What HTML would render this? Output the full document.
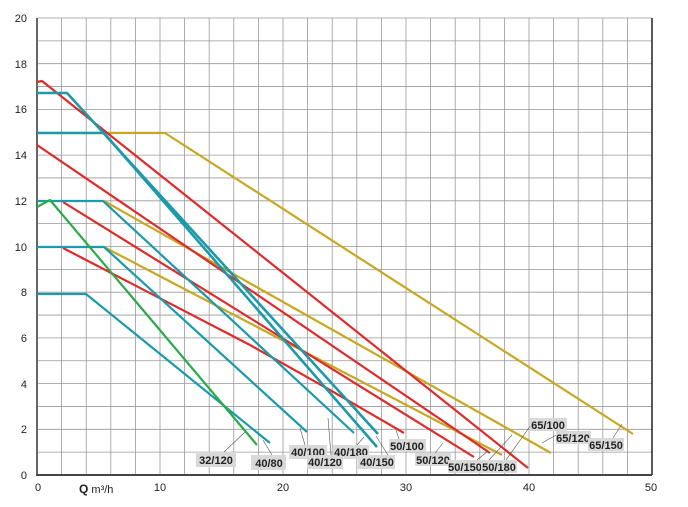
<!DOCTYPE html>
<html><head><meta charset="utf-8"><style>
html,body{margin:0;padding:0;background:#fff;}
svg{display:block;font-family:"Liberation Sans",Arial,sans-serif;}
.lb rect{fill:#d9d9d9;}
.lb text{font-size:11px;font-weight:bold;fill:#222;text-anchor:middle;}
.ld{stroke:#555;stroke-width:0.6;fill:none;}
</style></head><body>
<svg width="688" height="507" viewBox="0 0 688 507" xmlns="http://www.w3.org/2000/svg">
<path stroke="#999" stroke-width="0.8" fill="none" d="
M61.6 18V475M86.2 18V475M110.8 18V475M135.4 18V475M160 18V475M184.6 18V475M209.2 18V475M233.8 18V475M258.4 18V475M283 18V475M307.6 18V475M332.2 18V475M356.8 18V475M381.4 18V475M406 18V475M430.6 18V475M455.2 18V475M479.8 18V475M504.4 18V475M529 18V475M553.6 18V475M578.2 18V475M602.8 18V475M627.4 18V475
M37 452.15H652M37 429.3H652M37 406.45H652M37 383.6H652M37 360.75H652M37 337.9H652M37 315.05H652M37 292.2H652M37 269.35H652M37 246.5H652M37 223.65H652M37 200.8H652M37 177.95H652M37 155.1H652M37 132.25H652M37 109.4H652M37 86.55H652M37 63.7H652M37 40.85H652M37 18H652"/>
<line x1="652" y1="18" x2="652" y2="475" stroke="#222" stroke-width="1.5"/>
<line x1="37" y1="18" x2="37" y2="476" stroke="#666" stroke-width="2"/>
<line x1="36" y1="475" x2="652" y2="475" stroke="#444" stroke-width="2"/>
<g font-size="11" fill="#222" text-anchor="end">
<text x="27" y="22">20</text><text x="27" y="68">18</text><text x="27" y="113">16</text>
<text x="27" y="159">14</text><text x="27" y="205">12</text><text x="27" y="251">10</text>
<text x="27" y="296">8</text><text x="27" y="342">6</text><text x="27" y="388">4</text>
<text x="27" y="433">2</text><text x="27" y="479">0</text>
</g>
<g font-size="11" fill="#222" text-anchor="middle">
<text x="38" y="491">0</text><text x="160" y="491">10</text><text x="283" y="491">20</text>
<text x="406" y="491">30</text><text x="529" y="491">40</text><text x="651" y="491">50</text>
</g>
<text x="79" y="493" font-size="11" fill="#222"><tspan font-weight="bold" font-size="12">Q</tspan> m³/h</text>
<g fill="none" stroke-width="2.2" stroke-linejoin="round">
<polyline stroke="#c8a820" points="104,133 165,133 633,434"/>
<polyline stroke="#c8a820" points="104,201 551,453"/>
<polyline stroke="#c8a820" points="104,247 502,455"/>
<polyline stroke="#e02a2a" points="37,82 42,81 528,468"/>
<polyline stroke="#e02a2a" points="37,145 490,453"/>
<polyline stroke="#e02a2a" points="63,202 474,457"/>
<polyline stroke="#e02a2a" points="63,248 250,345 330,390 404,433"/>
<polyline stroke="#1a9aaa" points="37,294 86,294 270,443"/>
<polyline stroke="#1a9aaa" points="37,247 104,247 307,432"/>
<polyline stroke="#1a9aaa" points="37,201 103,201 354,433"/>
<polyline stroke="#1a9aaa" stroke-width="2.6" points="37,133 104,133 377,447"/>
<polyline stroke="#1a9aaa" stroke-width="2.6" points="37,93 67,93 378,434"/>
<polyline stroke="#2aaa48" points="37,207 50,200 257,445"/>
</g>
<g class="ld">
<line x1="224" y1="452" x2="245" y2="432"/>
<line x1="272" y1="455" x2="263" y2="440"/>
<line x1="305" y1="445" x2="300" y2="428"/>
<line x1="331" y1="455" x2="328" y2="418"/>
<line x1="357" y1="445" x2="364" y2="437"/>
<line x1="388" y1="455" x2="376" y2="436"/>
<line x1="399" y1="439" x2="396" y2="430"/>
<line x1="435" y1="453" x2="443" y2="443"/>
<line x1="477" y1="460" x2="488" y2="451"/>
<line x1="489" y1="460" x2="512" y2="435"/>
<line x1="506" y1="460" x2="531" y2="425"/>
<line x1="542" y1="443" x2="560" y2="433"/>
<line x1="613" y1="438" x2="622" y2="424"/>
</g>
<g class="lb">
<rect x="196" y="452" width="40" height="15"/><text x="216" y="464">32/120</text>
<rect x="251" y="455" width="35" height="15"/><text x="269" y="467">40/80</text>
<rect x="289" y="445" width="38" height="14"/><text x="308" y="456">40/100</text>
<rect x="307" y="455" width="36" height="14"/><text x="325" y="466">40/120</text>
<rect x="333" y="445" width="36" height="14"/><text x="351" y="456">40/180</text>
<rect x="358" y="455" width="37" height="14"/><text x="377" y="466">40/150</text>
<rect x="389" y="439" width="37" height="13"/><text x="407" y="450">50/100</text>
<rect x="415" y="453" width="36" height="13"/><text x="433" y="464">50/120</text>
<rect x="448" y="460" width="35" height="13"/><text x="465" y="471">50/150</text>
<rect x="481" y="460" width="36" height="13"/><text x="499" y="471">50/180</text>
<rect x="530" y="418" width="37" height="13"/><text x="548" y="429">65/100</text>
<rect x="556" y="431" width="35" height="13"/><text x="573" y="442">65/120</text>
<rect x="588" y="438" width="36" height="13"/><text x="606" y="449">65/150</text>
</g>
</svg>
</body></html>
